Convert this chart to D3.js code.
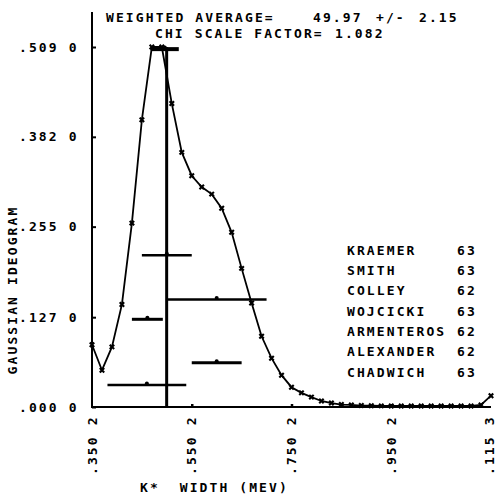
<!DOCTYPE html>
<html><head><meta charset="utf-8">
<script src="https://cdn.jsdelivr.net/npm/d3@7"></script>
<style>
body{margin:0;background:#fff}
text{font-family:"DejaVu Sans Mono",monospace;font-weight:bold;font-size:13px;letter-spacing:2.1px;fill:#000;white-space:pre}
</style>
</head><body><svg id="c" width="496" height="498"></svg>
<script>
// K* width (MeV) sample points of the ideogram curve
const widthMeV = [35,37,39,41,43,45,47,49,51,53,55,57,59,61,63,65,67,69,71,73,75,77,79,81,83,85,87,89,91,93,95,97,99,101,103,105,107,109,111,113,115];
const ideogram = [0.088,0.052,0.085,0.145,0.260,0.406,0.509,0.509,0.429,0.360,0.327,0.311,0.301,0.281,0.247,0.196,0.147,0.100,0.069,0.045,0.028,0.020,0.014,0.0085,0.0056,0.0035,0.003,0.002,0.0018,0.0016,0.0015,0.0015,0.0015,0.0015,0.0015,0.0015,0.0015,0.0015,0.0015,0.003,0.016];
// measurements drawn as horizontal error bars
const measCenter = [49.6, 50.0, 60.0, 46.1, 60.0, 46.0];
const measError  = [2.8, 5.0, 10.0, 3.1, 5.0, 7.9];
const measLevel  = [0.506, 0.2145, 0.152, 0.124, 0.0625, 0.031];
const measThick  = [4, 2.5, 2.5, 3, 3, 2.5];
const experiments = ["KRAEMER","SMITH","COLLEY","WOJCICKI","ARMENTEROS","ALEXANDER","CHADWICH"];
const years = ["63","63","62","63","62","62","63"];
const yTicks = [0, 0.127, 0.255, 0.382, 0.509];
const yTickLabels = [".000 0", ".127 0", ".255 0", ".382 0", ".509 0"];
const xTicks = [35, 55, 75, 95, 115];
const xTickLabels = [".350 2", ".550 2", ".750 2", ".950 2", ".115 3"];
const weightedAvg = 49.97;

const svg = d3.select("#c");
const x = d3.scaleLinear().domain([35, 115]).range([92, 491]);
const y = d3.scaleLinear().domain([0, 0.509]).range([407, 47]);

// axes lines
svg.append("line").attr("x1",92).attr("x2",92).attr("y1",12).attr("y2",408).attr("stroke","#000").attr("stroke-width",2);
svg.append("line").attr("x1",91).attr("x2",491).attr("y1",407).attr("y2",407).attr("stroke","#000").attr("stroke-width",2);

// y ticks
const yAxis = d3.axisRight(y).tickValues(yTicks).tickSize(4).tickFormat("");
svg.append("g").attr("transform","translate(92,0)").call(yAxis)
  .call(g=>g.select(".domain").remove())
  .call(g=>g.selectAll("line").attr("stroke-width",2));
yTicks.forEach((v,i)=>{
  svg.append("text").attr("x",19).attr("y",y(v)+4.6).attr("xml:space","preserve").text(yTickLabels[i]);
});
// x ticks
const xAxis = d3.axisTop(x).tickValues(xTicks.slice(1,4)).tickSize(3).tickFormat("");
svg.append("g").attr("transform","translate(0,407)").call(xAxis)
  .call(g=>g.select(".domain").remove())
  .call(g=>g.selectAll("line").attr("stroke-width",2.5));
xTicks.forEach((v,i)=>{
  svg.append("text").attr("transform",`translate(${Math.min(x(v),489)},475) rotate(-90)`).attr("dy","0.36em")
    .attr("xml:space","preserve").text(xTickLabels[i]);
});

// weighted average vertical line
svg.append("line").attr("x1",x(weightedAvg)).attr("x2",x(weightedAvg)).attr("y1",y(0.509)).attr("y2",407)
  .attr("stroke","#000").attr("stroke-width",3);

// ideogram curve
const pts = widthMeV.map((w,i)=>[w, ideogram[i]]);
svg.append("path").datum(pts).attr("fill","none").attr("stroke","#000").attr("stroke-width",1.8)
  .attr("d", d3.line().x(d=>x(d[0])).y(d=>y(d[1])));
svg.append("g").selectAll("path").data(pts).join("path")
  .attr("transform",d=>`translate(${x(d[0])},${y(d[1])}) rotate(45)`)
  .attr("d", d3.symbol(d3.symbolCross, 22))
  .attr("fill","#000");

// measurement bars
measCenter.forEach((c,i)=>{
  svg.append("line").attr("x1",x(c-measError[i])).attr("x2",x(c+measError[i]))
    .attr("y1",y(measLevel[i])).attr("y2",y(measLevel[i]))
    .attr("stroke","#000").attr("stroke-width",measThick[i]);
  svg.append("circle").attr("cx",x(c)).attr("cy",y(measLevel[i])-1.5).attr("r",2).attr("fill","#000");
});

// header text
svg.append("text").attr("x",106).attr("y",22).text("WEIGHTED AVERAGE=");
svg.append("text").attr("x",313).attr("y",22).text("49.97");
svg.append("text").attr("x",376).attr("y",22).text("+/-");
svg.append("text").attr("x",419).attr("y",22).text("2.15");
svg.append("text").attr("x",155).attr("y",38).text("CHI SCALE FACTOR=");
svg.append("text").attr("x",335).attr("y",38).text("1.082");

// legend
experiments.forEach((e,i)=>{
  svg.append("text").attr("x",347).attr("y",254.7+i*20.3).text(e);
  svg.append("text").attr("x",457).attr("y",254.7+i*20.3).text(years[i]);
});

// axis titles
svg.append("text").attr("transform","translate(12,290) rotate(-90)").attr("dy","0.36em")
  .attr("text-anchor","middle").text("GAUSSIAN IDEOGRAM");
svg.append("text").attr("x",140).attr("y",492).attr("xml:space","preserve").text("K*  WIDTH (MEV)");
</script>
</body></html>
